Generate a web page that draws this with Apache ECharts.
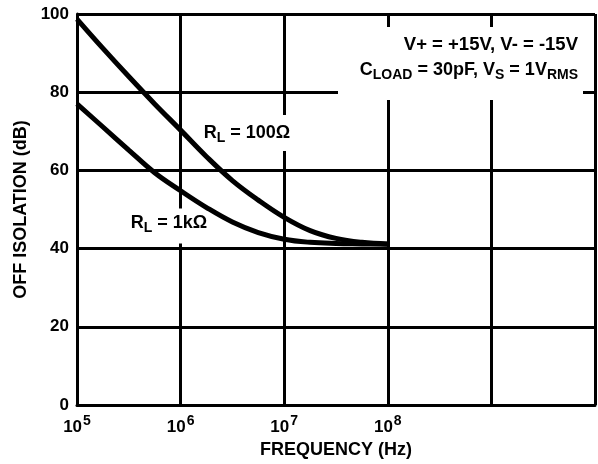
<!DOCTYPE html>
<html>
<head>
<meta charset="utf-8">
<script src="https://cdn.jsdelivr.net/npm/echarts@6/dist/echarts.min.js"></script>
<style>
html,body{margin:0;padding:0;background:#fff;}
#c{width:598px;height:464px;}
</style>
</head>
<body>
<div id="c"></div>
<script>
// Frequencies (Hz) sampled along the curves (quarter decades)
var freqs = [1e5, 1.78e5, 3.16e5, 5.62e5, 1e6, 1.78e6, 3.16e6, 5.62e6, 1e7, 1.78e7, 3.16e7, 5.62e7, 1e8];
// Off isolation (dB), RL = 100 ohm
var iso100 = [98.7, 91.2, 84, 77, 70.3, 63.5, 57.4, 52.4, 48, 44.6, 42.6, 41.6, 41.2];
// Off isolation (dB), RL = 1 kohm
var iso1k = [77, 71.1, 65.2, 59.4, 54.8, 50.5, 46.8, 44.1, 42.4, 41.6, 41.3, 41.2, 41.1];
var yTicks = [0, 20, 40, 60, 80, 100];
var xLabelExps = [5, 6, 7, 8];

function pairs(xs, ys){ return xs.map(function(x,i){ return [x, ys[i]]; }); }

var FONT = '"Liberation Sans", Arial, sans-serif';
var chart = echarts.init(document.getElementById('c'), null, {renderer:'canvas'});
var subRich = {
  b: {font: 'bold 18px ' + FONT, fill: '#000', color: '#000', verticalAlign: 'top'},
  s: {font: 'bold 14px ' + FONT, fill: '#000', color: '#000', verticalAlign: 'top', padding: [7,0,0,0]}
};
var option = {
  animation: false,
  backgroundColor: '#fff',
  grid: {left: 77, right: 2, top: 14, bottom: 59},
  xAxis: {
    type: 'log', logBase: 10, min: 1e5, max: 1e10,
    name: 'FREQUENCY (Hz)', nameLocation: 'middle', nameGap: 34,
    nameTextStyle: {fontFamily: FONT, fontWeight: 'bold', fontSize: 18, color: '#000'},
    axisLine: {show: true, lineStyle: {color: '#000', width: 3}},
    axisTick: {show: false},
    splitLine: {show: true, lineStyle: {color: '#000', width: 3}},
    axisLabel: {
      margin: 9,
      formatter: function(v){
        var e = Math.round(Math.log10(v));
        if (xLabelExps.indexOf(e) < 0) return '';
        return '{b|10}{s|' + e + '}';
      },
      rich: {
        b: {fontFamily: FONT, fontWeight: 'bold', fontSize: 17, color: '#000', verticalAlign: 'bottom'},
        s: {fontFamily: FONT, fontWeight: 'bold', fontSize: 14, color: '#000', verticalAlign: 'bottom', padding: [0,0,8,1]}
      }
    }
  },
  yAxis: {
    type: 'value', min: 0, max: 100, interval: 20,
    name: 'OFF ISOLATION (dB)', nameLocation: 'middle', nameGap: 47,
    nameTextStyle: {fontFamily: FONT, fontWeight: 'bold', fontSize: 18, color: '#000'},
    axisLine: {show: true, lineStyle: {color: '#000', width: 3}},
    axisTick: {show: false},
    splitLine: {show: true, lineStyle: {color: '#000', width: 3}},
    axisLabel: {
      margin: 8, fontFamily: FONT, fontWeight: 'bold', fontSize: 17, color: '#000',
      formatter: function(v){ return yTicks.indexOf(v) >= 0 ? String(v) : ''; }
    }
  },
  series: [
    {type: 'line', name: 'RL = 100Ω', data: pairs(freqs, iso100), smooth: 0.4, showSymbol: false,
     lineStyle: {color: '#000', width: 5}, zlevel: 1, z: 3},
    {type: 'line', name: 'RL = 1kΩ', data: pairs(freqs, iso1k), smooth: 0.4, showSymbol: false,
     lineStyle: {color: '#000', width: 5}, zlevel: 1, z: 3}
  ],
  graphic: [
    {type: 'rect', z: 100, shape: {x: 338, y: 27, width: 245, height: 73}, style: {fill: '#fff'}},
    {type: 'text', z: 101, x: 578, y: 45, style: {
      text: 'V+ = +15V, V- = -15V', align: 'right', verticalAlign: 'middle',
      font: 'bold 18.5px ' + FONT, fill: '#000'}},
    {type: 'text', z: 101, x: 578, y: 72, style: {
      text: '{b|C}{s|LOAD}{b| = 30pF, V}{s|S}{b| = 1V}{s|RMS}', align: 'right', verticalAlign: 'middle',
      rich: subRich}},
    {type: 'text', z: 101, x: 247, y: 133, style: {
      text: '{b|R}{s|L}{b| = 100Ω}', align: 'center', verticalAlign: 'middle',
      backgroundColor: '#fff', padding: [9,2,6,2],
      rich: subRich}},
    {type: 'text', z: 101, x: 169, y: 226, style: {
      text: '{b|R}{s|L}{b| = 1kΩ}', align: 'center', verticalAlign: 'middle',
      backgroundColor: '#fff', padding: [6,3,8,3],
      rich: subRich}}
  ]
};
chart.setOption(option);
</script>
</body>
</html>
